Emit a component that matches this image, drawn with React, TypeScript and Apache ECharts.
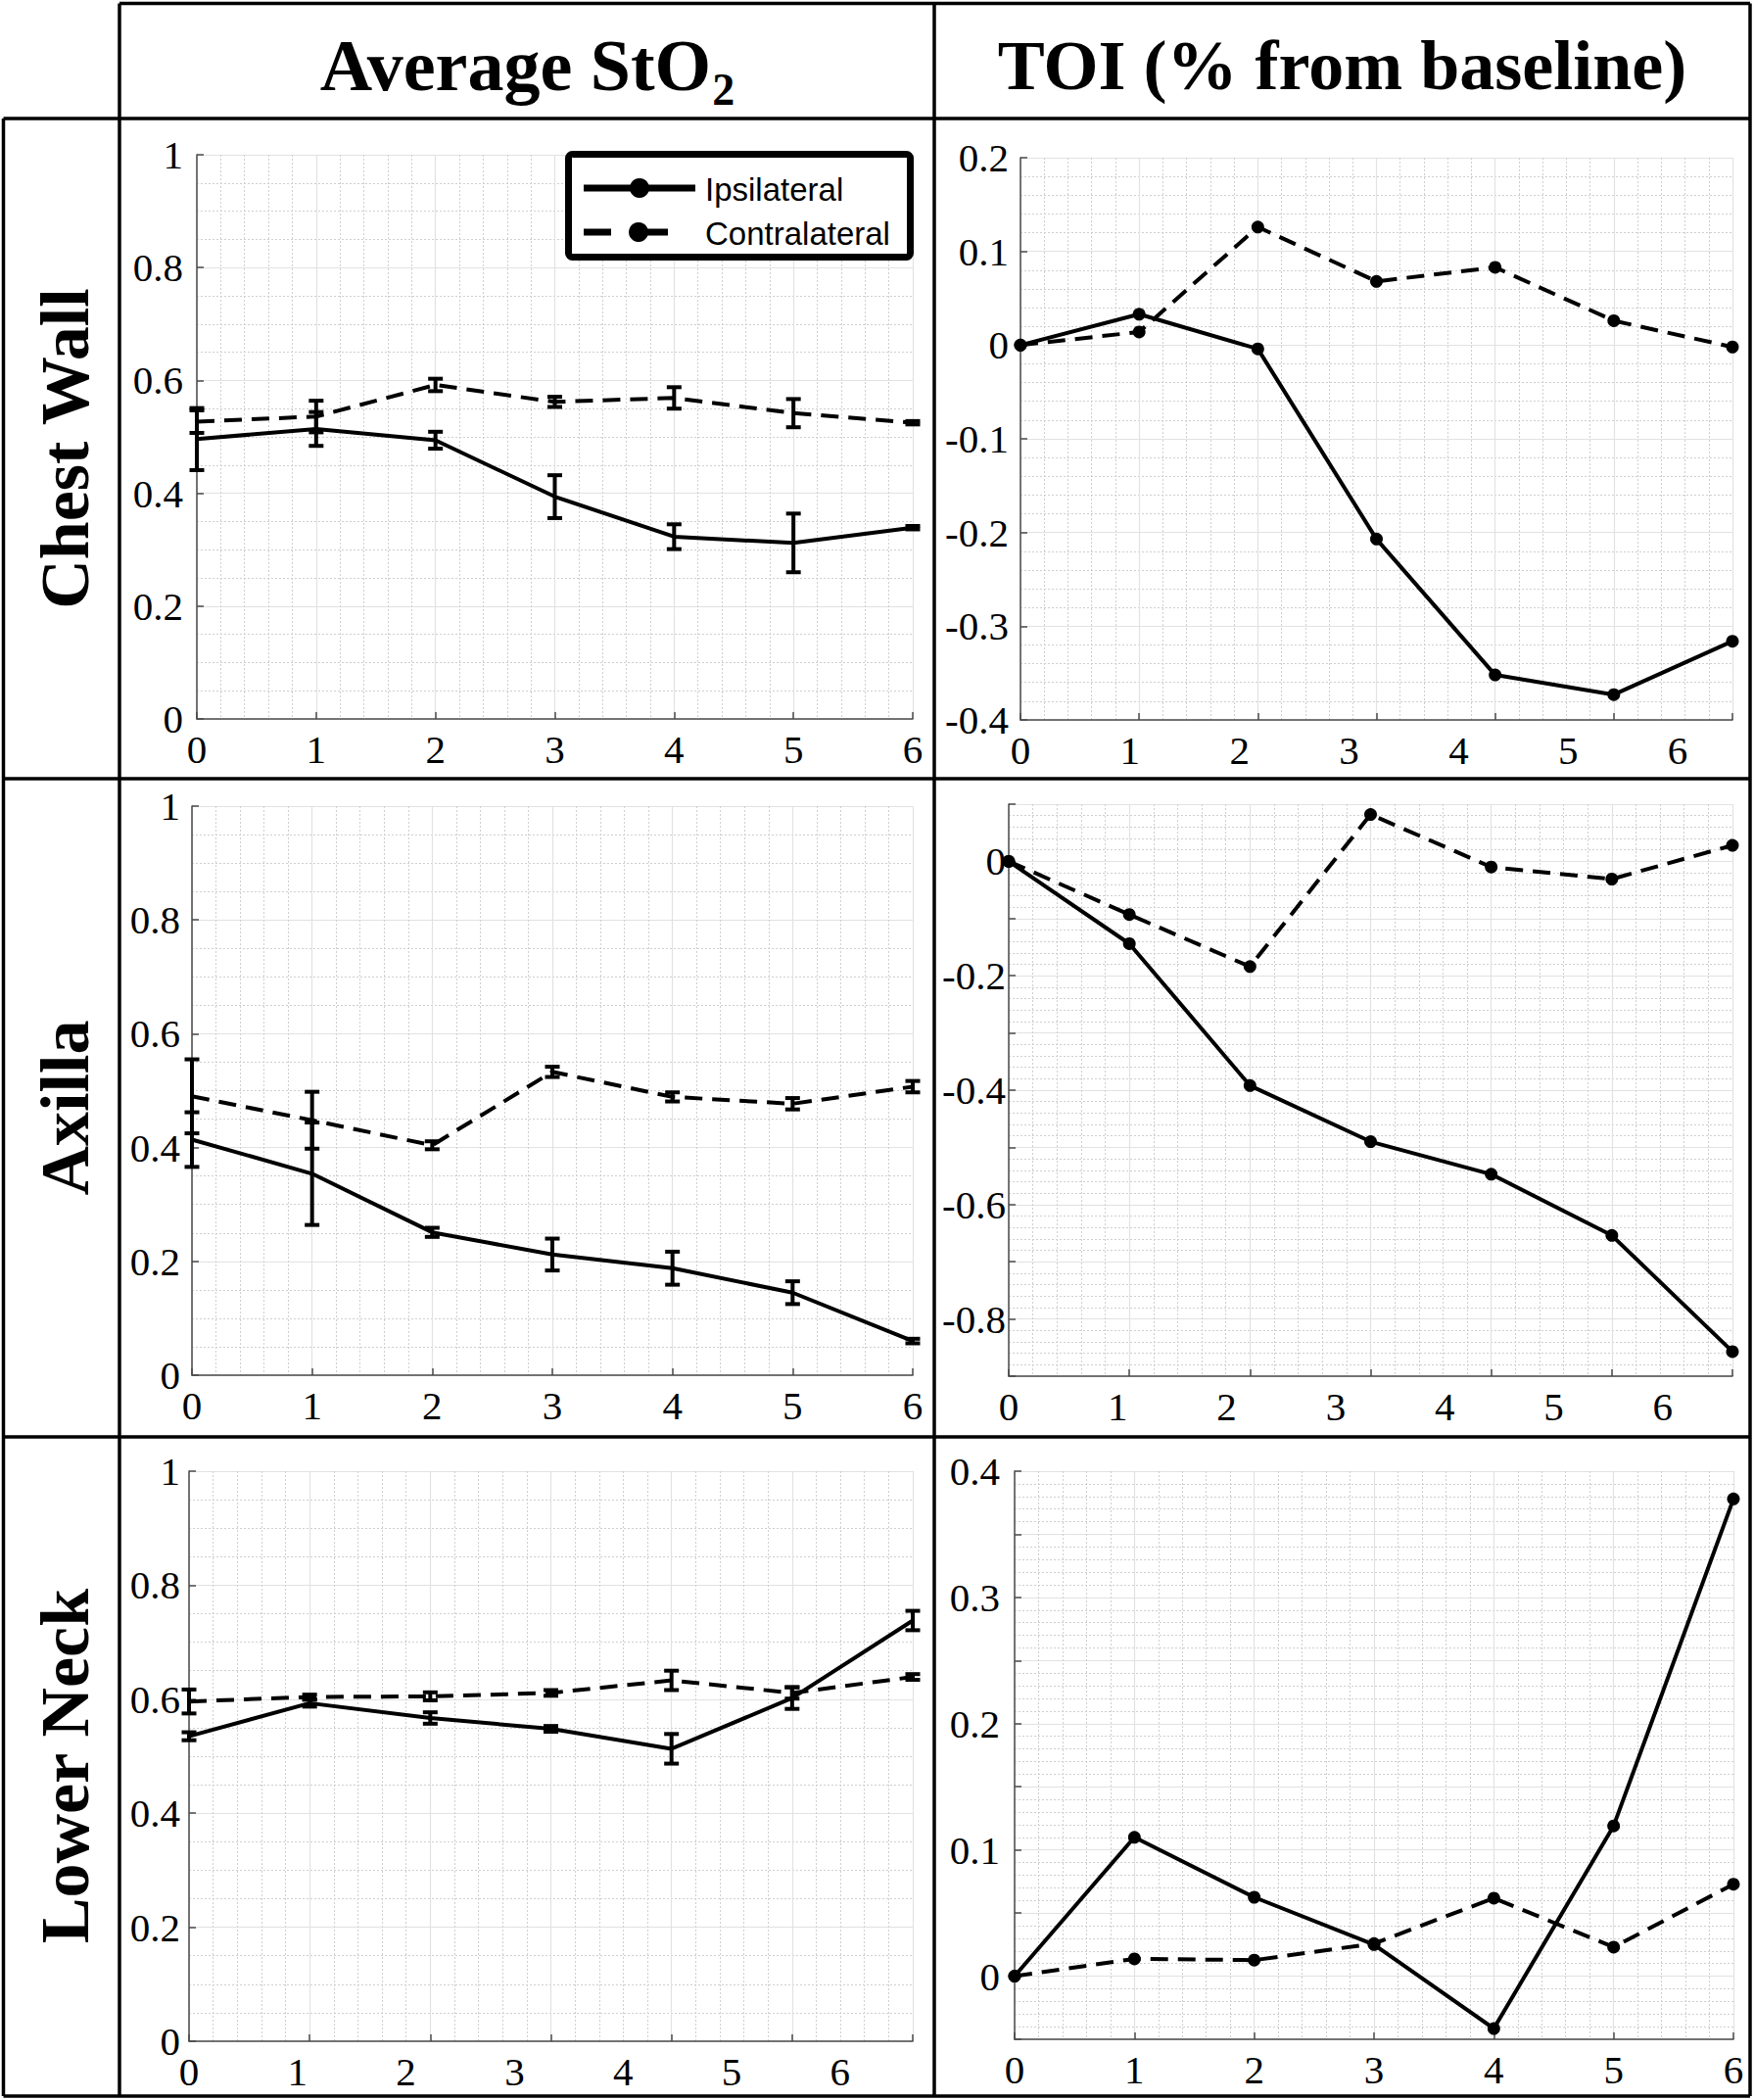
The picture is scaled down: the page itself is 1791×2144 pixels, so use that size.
import React, { useEffect, useRef } from 'react';
import * as echarts from 'echarts';

// ---------------- data ----------------
const TIME_POINTS = [0, 1, 2, 3, 4, 5, 6];
const COLUMN_TITLES = ['Average StO', 'TOI (% from baseline)'];
const COLUMN_SUBSCRIPT = '2';
const ROW_TITLES = ['Chest Wall', 'Axilla', 'Lower Neck'];
const SERIES_NAMES = ['Ipsilateral', 'Contralateral'];

// Average StO2 (mean and error)
const CW_STO2_IPSI = [0.496, 0.514, 0.494, 0.394, 0.323, 0.312, 0.339];
const CW_STO2_IPSI_ERR = [0.055, 0.03, 0.015, 0.038, 0.022, 0.052, 0.003];
const CW_STO2_CONTRA = [0.527, 0.536, 0.592, 0.562, 0.569, 0.542, 0.525];
const CW_STO2_CONTRA_ERR = [0.02, 0.028, 0.011, 0.009, 0.019, 0.025, 0.003];

const AX_STO2_IPSI = [0.414, 0.354, 0.251, 0.212, 0.188, 0.145, 0.06];
const AX_STO2_IPSI_ERR = [0.048, 0.09, 0.008, 0.028, 0.029, 0.02, 0.004];
const AX_STO2_CONTRA = [0.49, 0.448, 0.404, 0.533, 0.489, 0.477, 0.507];
const AX_STO2_CONTRA_ERR = [0.065, 0.05, 0.007, 0.009, 0.008, 0.01, 0.01];

const LN_STO2_IPSI = [0.535, 0.593, 0.567, 0.548, 0.513, 0.602, 0.738];
const LN_STO2_IPSI_ERR = [0.007, 0.006, 0.01, 0.005, 0.026, 0.019, 0.017];
const LN_STO2_CONTRA = [0.596, 0.604, 0.605, 0.611, 0.633, 0.611, 0.639];
const LN_STO2_CONTRA_ERR = [0.021, 0.004, 0.007, 0.005, 0.017, 0.01, 0.005];

// TOI (% from baseline)
const CW_TOI_IPSI = [0, 0.033, -0.004, -0.207, -0.352, -0.373, -0.316];
const CW_TOI_CONTRA = [0, 0.014, 0.126, 0.068, 0.083, 0.026, -0.002];

const AX_TOI_IPSI = [0, -0.144, -0.392, -0.49, -0.547, -0.654, -0.857];
const AX_TOI_CONTRA = [0, -0.093, -0.184, 0.082, -0.01, -0.031, 0.028];

const LN_TOI_IPSI = [0, 0.11, 0.0625, 0.025, -0.0415, 0.119, 0.378];
const LN_TOI_CONTRA = [0, 0.0137, 0.0127, 0.0258, 0.0618, 0.023, 0.0728];

// ---------------- layout / styles ----------------
const SERIF = 'Liberation Serif';
const SANS = 'Liberation Sans';
const AXIS_COLOR = '#4a4a4a';
const MAJOR_GRID = '#e2e2e2';
const MINOR_GRID = '#cfcfcf';
const DASH = [18, 10];

type PanelDef = {
  grid: { left: number; top: number; width: number; height: number };
  y: { min: number; max: number; interval: number; minor: number; labelStep: number; margin: number };
  labelMax: number | null;
  kind: 'sto2' | 'toi';
  ipsi: number[];
  contra: number[];
  ipsiErr?: number[];
  contraErr?: number[];
};

const PANELS: PanelDef[] = [
  {
    grid: { left: 201, top: 158, width: 731, height: 576 },
    y: { min: 0, max: 1, interval: 0.2, minor: 4, labelStep: 0.2, margin: 14 },
    labelMax: null, kind: 'sto2',
    ipsi: CW_STO2_IPSI, ipsiErr: CW_STO2_IPSI_ERR, contra: CW_STO2_CONTRA, contraErr: CW_STO2_CONTRA_ERR,
  },
  {
    grid: { left: 1042, top: 161, width: 727, height: 574 },
    y: { min: -0.4, max: 0.2, interval: 0.1, minor: 5, labelStep: 0.1, margin: 12 },
    labelMax: 6.5, kind: 'toi',
    ipsi: CW_TOI_IPSI, contra: CW_TOI_CONTRA,
  },
  {
    grid: { left: 196, top: 823, width: 736, height: 581 },
    y: { min: 0, max: 1, interval: 0.2, minor: 4, labelStep: 0.2, margin: 12 },
    labelMax: null, kind: 'sto2',
    ipsi: AX_STO2_IPSI, ipsiErr: AX_STO2_IPSI_ERR, contra: AX_STO2_CONTRA, contraErr: AX_STO2_CONTRA_ERR,
  },
  {
    grid: { left: 1030, top: 821, width: 739, height: 584 },
    y: { min: -0.9, max: 0.1, interval: 0.1, minor: 5, labelStep: 0.2, margin: 3 },
    labelMax: 6.64, kind: 'toi',
    ipsi: AX_TOI_IPSI, contra: AX_TOI_CONTRA,
  },
  {
    grid: { left: 193, top: 1502, width: 739, height: 582 },
    y: { min: 0, max: 1, interval: 0.2, minor: 4, labelStep: 0.2, margin: 9 },
    labelMax: 6.67, kind: 'sto2',
    ipsi: LN_STO2_IPSI, ipsiErr: LN_STO2_IPSI_ERR, contra: LN_STO2_CONTRA, contraErr: LN_STO2_CONTRA_ERR,
  },
  {
    grid: { left: 1036, top: 1502, width: 734, height: 580 },
    y: { min: -0.05, max: 0.4, interval: 0.05, minor: 5, labelStep: 0.1, margin: 15 },
    labelMax: null, kind: 'toi',
    ipsi: LN_TOI_IPSI, contra: LN_TOI_CONTRA,
  },
];

const fmtNum = (v: number) => String(parseFloat(v.toFixed(2)));

function measure(text: string, font: string): number {
  const c = document.createElement('canvas').getContext('2d');
  if (!c) return text.length * 30;
  c.font = font;
  return c.measureText(text).width;
}

function buildOption() {
  const grids: any[] = [];
  const xAxes: any[] = [];
  const yAxes: any[] = [];
  const series: any[] = [];
  const tickLabel = { fontFamily: SERIF, fontSize: 41, color: '#000', fontWeight: 'normal' };

  PANELS.forEach((p, i) => {
    grids.push({ ...p.grid, containLabel: false, show: false });
    const mainIdx = xAxes.length;
    xAxes.push({
      type: 'value', gridIndex: i, position: 'bottom', min: 0, max: 6, interval: 1,
      axisLine: { show: true, onZero: false, lineStyle: { color: AXIS_COLOR, width: 1.5 } },
      axisTick: { show: true, inside: true, length: 7, lineStyle: { color: AXIS_COLOR, width: 1.5 } },
      axisLabel: { show: p.labelMax === null, margin: 10, ...tickLabel },
      splitLine: { show: true, lineStyle: { color: MAJOR_GRID, width: 1.2 } },
      minorTick: { show: false, splitNumber: 5 },
      minorSplitLine: { show: true, lineStyle: { color: MINOR_GRID, width: 1, type: [2, 2] } },
    });
    if (p.labelMax !== null) {
      xAxes.push({
        type: 'value', gridIndex: i, position: 'bottom', offset: 0, min: 0, max: p.labelMax, interval: 1,
        axisLine: { show: false, onZero: false },
        axisTick: { show: false },
        splitLine: { show: false },
        axisLabel: {
          show: true, margin: 10, showMaxLabel: false, ...tickLabel,
          formatter: (v: number) => (Number.isInteger(Math.round(v * 1000) / 1000) ? String(Math.round(v)) : ''),
        },
      });
    }
    const step = p.y.labelStep;
    yAxes.push({
      type: 'value', gridIndex: i, position: 'left', min: p.y.min, max: p.y.max, interval: p.y.interval,
      axisLine: { show: true, onZero: false, lineStyle: { color: AXIS_COLOR, width: 1.5 } },
      axisTick: { show: true, inside: true, length: 7, lineStyle: { color: AXIS_COLOR, width: 1.5 } },
      axisLabel: {
        show: true, margin: p.y.margin, ...tickLabel,
        formatter: (v: number) => {
          const k = Math.round((v / step) * 1000) / 1000;
          return Number.isInteger(k) ? fmtNum(v) : '';
        },
      },
      splitLine: { show: true, lineStyle: { color: MAJOR_GRID, width: 1.2 } },
      minorTick: { show: false, splitNumber: p.y.minor },
      minorSplitLine: { show: true, lineStyle: { color: MINOR_GRID, width: 1, type: [2, 2] } },
    });

    const groups = [
      { name: SERIES_NAMES[0], vals: p.ipsi, err: p.ipsiErr, dash: 'solid' as any },
      { name: SERIES_NAMES[1], vals: p.contra, err: p.contraErr, dash: DASH as any },
    ];
    groups.forEach((g) => {
      series.push({
        name: g.name, type: 'line', xAxisIndex: mainIdx, yAxisIndex: i,
        data: TIME_POINTS.map((t, k) => [t, g.vals[k]]),
        lineStyle: { color: '#000', width: 4, type: g.dash, cap: 'butt' },
        itemStyle: { color: '#000' },
        symbol: p.kind === 'toi' ? 'circle' : 'none', symbolSize: 13, showSymbol: p.kind === 'toi',
        z: 3, silent: true,
      });
      if (g.err) {
        const err = g.err;
        series.push({
          name: g.name + ' error', type: 'custom', xAxisIndex: mainIdx, yAxisIndex: i,
          data: TIME_POINTS.map((t, k) => [t, g.vals[k] - err[k], g.vals[k] + err[k]]),
          encode: { x: 0, y: [1, 2] },
          z: 4, silent: true,
          renderItem: (_params: any, api: any) => {
            const x = api.value(0);
            const lo = api.coord([x, api.value(1)]);
            const hi = api.coord([x, api.value(2)]);
            const hw = 7.5;
            const style = { stroke: '#000', lineWidth: 4, fill: 'none' };
            return {
              type: 'group',
              children: [
                { type: 'line', shape: { x1: lo[0], y1: lo[1], x2: hi[0], y2: hi[1] }, style },
                { type: 'line', shape: { x1: lo[0] - hw, y1: lo[1], x2: lo[0] + hw, y2: lo[1] }, style },
                { type: 'line', shape: { x1: hi[0] - hw, y1: hi[1], x2: hi[0] + hw, y2: hi[1] }, style },
              ],
            };
          },
        });
      }
    });
  });

  // table frame
  const border = { stroke: '#000', lineWidth: 3.5 };
  const L = 3.5, C1 = 122, C2 = 954, R = 1787, T = 3.5, H1 = 121, H2 = 795, H3 = 1467, B = 2140;
  const frame: any[] = [
    [C1, T, R, T], [L, H1, R, H1], [L, H2, R, H2], [L, H3, R, H3], [L, B, R, B],
    [L, H1, L, B], [C1, T, C1, B], [C2, T, C2, B], [R, T, R, B],
  ].map(([x1, y1, x2, y2]) => ({ type: 'line', shape: { x1, y1, x2, y2 }, style: border, z: 10 }));

  // column titles: main text + subscript, measured so they join up
  const mainSize = 74, subSize = 46;
  const mainW = measure(COLUMN_TITLES[0], `bold ${mainSize}px "${SERIF}"`);
  const subW = measure(COLUMN_SUBSCRIPT, `bold ${subSize}px "${SERIF}"`);
  const col1Center = (C1 + C2) / 2;
  const startX = col1Center - (mainW + subW) / 2;

  const titleFont = { fontFamily: SERIF, fontWeight: 'bold', fill: '#000' };
  const texts: any[] = [
    {
      type: 'text', x: startX, y: 67, z: 10,
      style: { ...titleFont, text: COLUMN_TITLES[0], fontSize: mainSize, textAlign: 'left', align: 'left', textVerticalAlign: 'middle', verticalAlign: 'middle' },
    },
    {
      type: 'text', x: startX + mainW + 1, y: 91, z: 10,
      style: { ...titleFont, text: COLUMN_SUBSCRIPT, fontSize: subSize, textAlign: 'left', align: 'left', textVerticalAlign: 'middle', verticalAlign: 'middle' },
    },
    {
      type: 'text', x: (C2 + R) / 2, y: 67, z: 10,
      style: { ...titleFont, text: COLUMN_TITLES[1], fontSize: 72, textAlign: 'center', align: 'center', textVerticalAlign: 'middle', verticalAlign: 'middle' },
    },
    ...ROW_TITLES.map((t, k) => ({
      type: 'text', x: 66, y: [458, 1131, 1803][k], rotation: Math.PI / 2, z: 10,
      style: { ...titleFont, text: t, fontSize: 70, textAlign: 'center', align: 'center', textVerticalAlign: 'middle', verticalAlign: 'middle' },
    })),
  ];

  // legend (first panel)
  const lg: any[] = [
    { type: 'rect', shape: { x: 580.5, y: 157.5, width: 349, height: 105, r: 4 }, style: { fill: '#fff', stroke: '#000', lineWidth: 7 }, z: 20 },
    { type: 'line', shape: { x1: 596, y1: 192, x2: 710, y2: 192 }, style: { stroke: '#000', lineWidth: 7 }, z: 21 },
    { type: 'circle', shape: { cx: 653, cy: 192, r: 10 }, style: { fill: '#000' }, z: 22 },
    { type: 'line', shape: { x1: 596, y1: 237, x2: 624, y2: 237 }, style: { stroke: '#000', lineWidth: 7 }, z: 21 },
    { type: 'line', shape: { x1: 652, y1: 237, x2: 682, y2: 237 }, style: { stroke: '#000', lineWidth: 7 }, z: 21 },
    { type: 'circle', shape: { cx: 652, cy: 237, r: 10 }, style: { fill: '#000' }, z: 22 },
    {
      type: 'text', x: 720, y: 193, z: 22,
      style: { text: SERIES_NAMES[0], fontFamily: SANS, fontSize: 33, fill: '#000', textAlign: 'left', align: 'left', textVerticalAlign: 'middle', verticalAlign: 'middle' },
    },
    {
      type: 'text', x: 720, y: 238, z: 22,
      style: { text: SERIES_NAMES[1], fontFamily: SANS, fontSize: 33, fill: '#000', textAlign: 'left', align: 'left', textVerticalAlign: 'middle', verticalAlign: 'middle' },
    },
  ];

  return {
    animation: false,
    backgroundColor: '#fff',
    textStyle: { fontFamily: SERIF },
    grid: grids,
    xAxis: xAxes,
    yAxis: yAxes,
    series,
    graphic: { elements: [...frame, ...texts, ...lg] },
  };
}

export default function App() {
  const ref = useRef<HTMLDivElement>(null);
  useEffect(() => {
    if (!ref.current) return;
    const chart = echarts.init(ref.current, null, { renderer: 'svg' });
    chart.setOption(buildOption() as any);
    return () => chart.dispose();
  }, []);
  return (
    <div
      ref={ref}
      style={{ position: 'absolute', left: 0, top: 0, width: 1791, height: 2144, background: '#fff' }}
    />
  );
}
